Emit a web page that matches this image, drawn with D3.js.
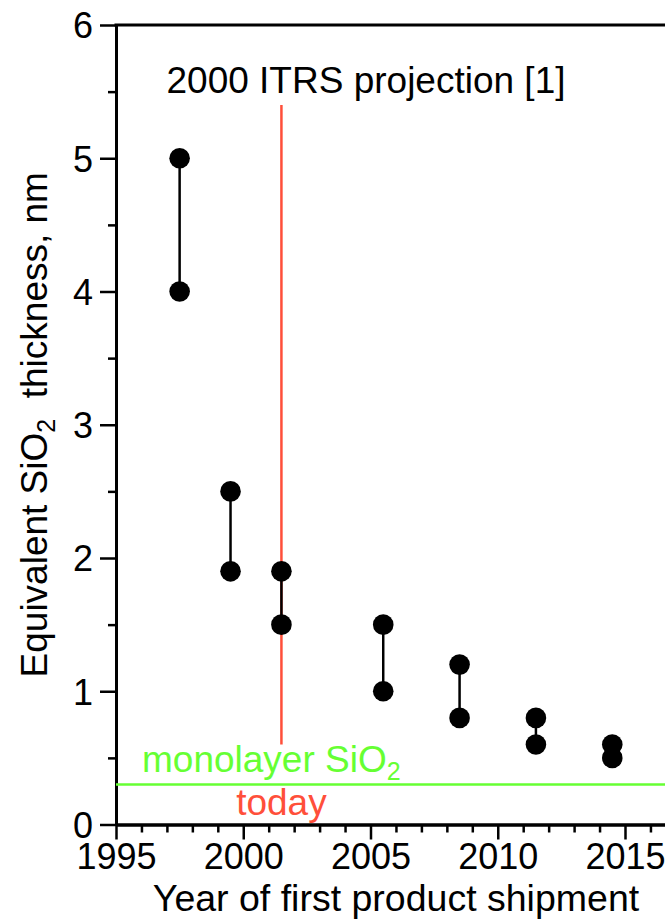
<!DOCTYPE html>
<html>
<head>
<meta charset="utf-8">
<script src="https://cdn.jsdelivr.net/npm/d3@7"></script>
<style>
  html, body { margin: 0; padding: 0; background: #fff; }
  svg { display: block; }
  text { font-family: "Liberation Sans", Arial, sans-serif; }
</style>
</head>
<body>
<svg id="chart" width="665" height="921"></svg>
<script>
const years = [1997.5, 1999.5, 2001.5, 2005.5, 2008.5, 2011.5, 2014.5];
const upper = [5, 2.5, 1.9, 1.5, 1.2, 0.8, 0.6];
const lower = [4, 1.9, 1.5, 1.0, 0.8, 0.6, 0.5];
const xTicks = [1995, 2000, 2005, 2010, 2015];
const yTicks = [0, 1, 2, 3, 4, 5, 6];
const todayYear = 2001.5;
const todayRange = [0.6, 5.4];
const monolayer = 0.3;

const svg = d3.select("#chart");
const mLeft = 116, mRight = 665, mTop = 25, mBottom = 824.5;
const x = d3.scaleLinear().domain([1995, 1995 + (mRight - mLeft) / 25.45]).range([mLeft, mRight]);
const y = d3.scaleLinear().domain([0, 6]).range([mBottom, mTop]);

const xMinor = d3.range(1995, 2017, 1).filter(v => !xTicks.includes(v));
const yMinor = d3.range(0.5, 6, 1);

const xAxis = svg.append("g").attr("transform", `translate(0,${mBottom})`)
  .call(d3.axisBottom(x).tickValues(xTicks).tickFormat(d3.format("d")).tickSize(15).tickPadding(4).tickSizeOuter(0));
const xAxisMinor = svg.append("g").attr("transform", `translate(0,${mBottom})`)
  .call(d3.axisBottom(x).tickValues(xMinor).tickFormat("").tickSize(8).tickSizeOuter(0));
const yAxis = svg.append("g").attr("transform", `translate(${mLeft},0)`)
  .call(d3.axisLeft(y).tickValues(yTicks).tickFormat(d3.format("d")).tickSize(16).tickPadding(7).tickSizeOuter(0));
const yAxisMinor = svg.append("g").attr("transform", `translate(${mLeft},0)`)
  .call(d3.axisLeft(y).tickValues(yMinor).tickFormat("").tickSize(8).tickSizeOuter(0));

[xAxis, xAxisMinor, yAxis, yAxisMinor].forEach(g => {
  g.select(".domain").attr("stroke", "#000").attr("stroke-width", 3);
  g.selectAll(".tick line").attr("stroke", "#000").attr("stroke-width", 2.5);
  g.selectAll(".tick text").attr("fill", "#000").style("font-size", "36px")
   .style("font-family", '"Liberation Sans", Arial, sans-serif');
});
xAxis.selectAll(".tick text").attr("dy", "0.71em");
yAxis.selectAll(".tick text").attr("dy", "0.36em");

// top frame
svg.append("line").attr("x1", mLeft - 1.5).attr("x2", mRight).attr("y1", y(6)).attr("y2", y(6))
  .attr("stroke", "#000").attr("stroke-width", 3);

// monolayer line
svg.append("line").attr("x1", mLeft).attr("x2", mRight).attr("y1", y(monolayer)).attr("y2", y(monolayer))
  .attr("stroke", "#66ff33").attr("stroke-width", 2.5);

// today line
svg.append("line").attr("x1", x(todayYear)).attr("x2", x(todayYear))
  .attr("y1", y(todayRange[1])).attr("y2", y(todayRange[0]))
  .attr("stroke", "#ff4f3a").attr("stroke-width", 2.5);

// connectors
const data = years.map((yr, i) => ({ yr, hi: upper[i], lo: lower[i] }));
svg.append("g").selectAll("line").data(data).join("line")
  .attr("x1", d => x(d.yr)).attr("x2", d => x(d.yr))
  .attr("y1", d => y(d.hi)).attr("y2", d => y(d.lo))
  .attr("stroke", "#000").attr("stroke-width", 2.5);

const pts = data.flatMap(d => [{ yr: d.yr, v: d.hi }, { yr: d.yr, v: d.lo }]);
svg.append("g").selectAll("circle").data(pts).join("circle")
  .attr("cx", d => x(d.yr)).attr("cy", d => y(d.v)).attr("r", 10.3).attr("fill", "#000");

// texts
svg.append("text").attr("x", 366).attr("y", 93).attr("text-anchor", "middle")
  .style("font-size", "37px").attr("fill", "#000").text("2000 ITRS projection [1]");

const mono = svg.append("text").attr("x", 142).attr("y", 772)
  .style("font-size", "37px").attr("fill", "#66ff33");
mono.append("tspan").text("monolayer SiO");
mono.append("tspan").attr("dy", 8).style("font-size", "25px").text("2");

svg.append("text").attr("x", x(todayYear)).attr("y", 815).attr("text-anchor", "middle")
  .style("font-size", "37px").attr("fill", "#ff4f3a").text("today");

svg.append("text").attr("x", 396).attr("y", 911).attr("text-anchor", "middle")
  .style("font-size", "37.5px").attr("fill", "#000").text("Year of first product shipment");

const yt = svg.append("text").attr("transform", `translate(47,${(mTop + mBottom) / 2}) rotate(-90)`)
  .attr("text-anchor", "middle").style("font-size", "37px").attr("fill", "#000");
yt.append("tspan").text("Equivalent SiO");
yt.append("tspan").attr("dy", 8).style("font-size", "25px").text("2");
yt.append("tspan").attr("dy", -8).text("\u00a0 thickness, nm");
</script>
</body>
</html>
